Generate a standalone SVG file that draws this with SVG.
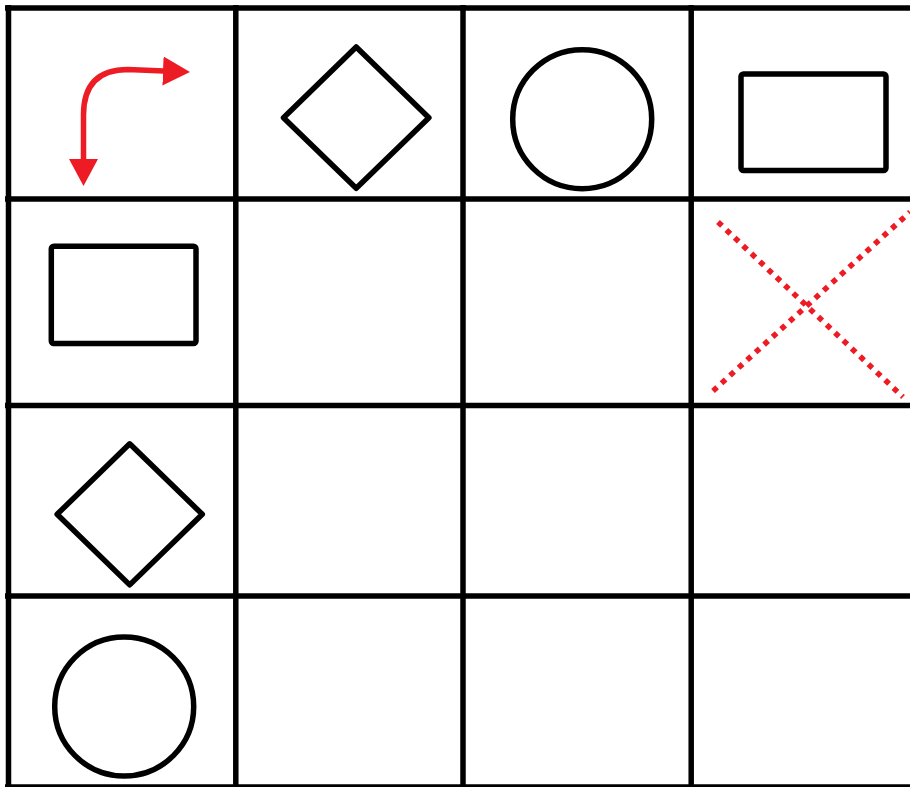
<svg xmlns="http://www.w3.org/2000/svg" width="910" height="787" viewBox="0 0 910 787">
<style>
.grid{stroke:#000;stroke-width:5.5;fill:none}
.shape{stroke:#000;stroke-width:5.5;fill:none;stroke-linejoin:round}
.red{stroke:#ED1C24;stroke-width:5.5;fill:none}
.dot{stroke:#ED1C24;stroke-width:5.5;fill:none;stroke-dasharray:5.5 6}
</style>
<defs>
<marker id="ah" markerUnits="userSpaceOnUse" markerWidth="27" markerHeight="30" refX="1" refY="14.5" orient="auto-start-reverse" viewBox="0 0 27 30">
<path d="M0,0 L27,14.5 L0,29 z" fill="#ED1C24"/>
</marker>
</defs>
<rect width="910" height="787" fill="#fff"/>
<g id="grid" class="grid">
<line x1="8.5" y1="5" x2="8.5" y2="790"/>
<line x1="235.8" y1="5" x2="235.8" y2="790"/>
<line x1="463" y1="5" x2="463" y2="790"/>
<line x1="691.2" y1="5" x2="691.2" y2="790"/>
<line x1="5" y1="8" x2="915" y2="8"/>
<line x1="5" y1="199" x2="915" y2="199"/>
<line x1="5" y1="405.5" x2="915" y2="405.5"/>
<line x1="5" y1="596" x2="915" y2="596"/>
<line x1="5" y1="787" x2="915" y2="787"/>
</g>
<g id="diamond1"><polygon class="shape" points="356.2,47 428.9,117.7 356.2,188.3 283.5,117.7"/></g>
<g id="circle1"><circle class="shape" cx="582.2" cy="119.2" r="69.5"/></g>
<g id="rect1"><rect class="shape" x="741" y="74" width="145" height="96.5" rx="2.5"/></g>
<g id="rect2"><rect class="shape" x="51.3" y="246.3" width="144.7" height="97.3" rx="2.5"/></g>
<g id="diamond2"><polygon class="shape" points="129.7,443.8 202.3,514.3 129.7,584.9 57.1,514.3"/></g>
<g id="circle2"><circle class="shape" cx="124.2" cy="706.5" r="69.5"/></g>
<g id="cross">
<line class="dot" x1="718" y1="222" x2="903" y2="397"/>
<line class="dot" x1="713" y1="391" x2="910" y2="212"/>
</g>
<g id="connectors">
<path class="red" d="M83.5,160 L83.5,115 Q83.5,69.5 128,69.5 L164,71" marker-start="url(#ah)" marker-end="url(#ah)"/>
</g>
</svg>
